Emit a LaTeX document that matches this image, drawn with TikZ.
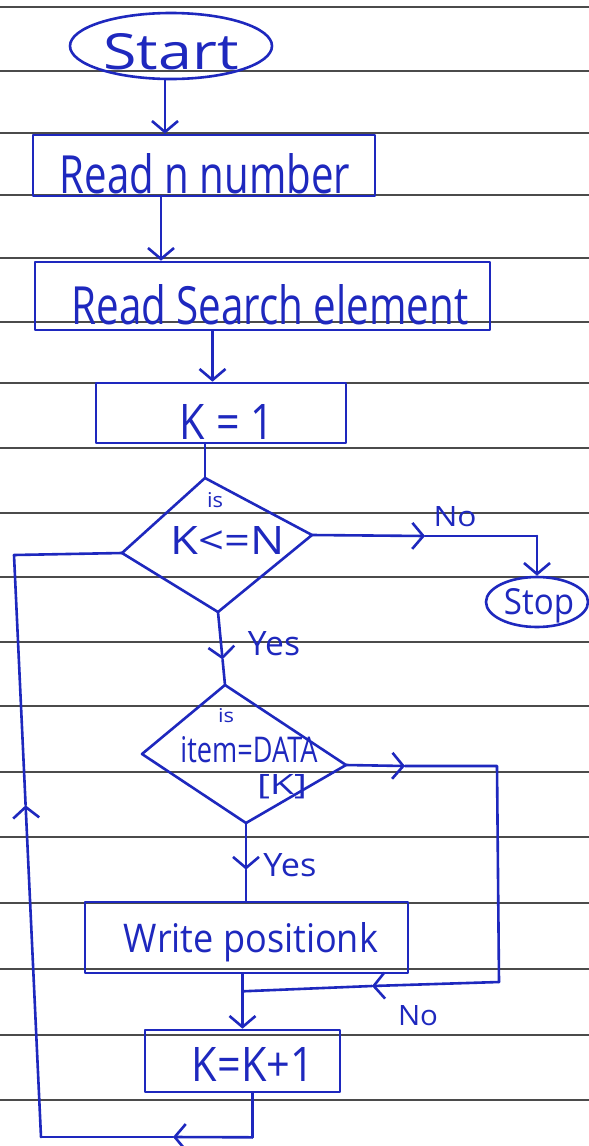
\documentclass[tikz,border=0pt]{standalone}
\usepackage{fontspec}
\setmainfont{Open Sans}
\usetikzlibrary{arrows.meta,calc,shapes.geometric}
\definecolor{pen}{RGB}{30,40,190}
\definecolor{ruling}{RGB}{75,75,75}
% handwriting-sized label: given width and letter height
\newcommand{\hw}[3]{\resizebox{#1}{#2}{#3}}

\begin{document}
\begin{tikzpicture}[x=1pt,y=-1pt,
  ink/.style={draw=pen, line width=2.6pt, line join=round, line cap=round},
  arr/.style={ink, -{Straight Barb[length=11pt,width=26pt]}},
  box/.style={ink, rectangle, inner sep=0pt},
  term/.style={ink, ellipse, inner sep=0pt},
  txt/.style={text=pen, inner sep=0pt},
  rule/.style={draw=ruling, line width=1.8pt}]

% page
\fill[white] (0,0) rectangle (589,1146);
\useasboundingbox (0,0) rectangle (589,1146);

% ruled notebook lines
\foreach \yy in {7,71,133,195,258,322,383,448,513,577,642,706,772,837,903,969,1035,1100}
  \draw[rule] (0,\yy) -- (589,\yy);

% terminals and process boxes
\node[term, minimum width=202pt, minimum height=66pt] (start) at (171,46) {};
\node[txt] (startt) at (171,52) {\hw{135pt}{36pt}{Start}};

\node[box, minimum width=342pt, minimum height=61pt] (read) at (204,165.5) {};
\node[txt] (readt) at (205,174) {\hw{290pt}{40pt}{Read n number}};

\node[box, minimum width=455pt, minimum height=68pt] (search) at (262.5,296) {};
\node[txt] (searcht) at (270,305) {\hw{397pt}{40pt}{Read Search element}};

\node[box, minimum width=250pt, minimum height=60pt] (k1) at (221,413) {};
\node[txt] (k1t) at (227,422) {\hw{94pt}{35pt}{K = 1}};

% first decision
\coordinate (d1t) at (205,478);
\coordinate (d1l) at (122,553);
\coordinate (d1r) at (312,535);
\coordinate (d1b) at (218,612);
\draw[ink] (d1t) -- (d1r) -- (d1b) -- (d1l) -- cycle;
\node[txt] (d1is) at (215,500) {\hw{16pt}{15pt}{is}};
\node[txt] (d1q) at (228,540) {\hw{114pt}{28pt}{K<=N}};

\node[term, minimum width=102pt, minimum height=50pt] (stop) at (537,602) {};
\node[txt] (stopt) at (539,606) {\hw{70pt}{26pt}{Stop}};

% second decision
\coordinate (d2t) at (225,685);
\coordinate (d2l) at (142,754);
\coordinate (d2r) at (346,765);
\coordinate (d2b) at (246,823);
\draw[ink] (d2t) -- (d2r) -- (d2b) -- (d2l) -- cycle;
\node[txt] (d2is) at (226,716) {\hw{16pt}{14pt}{is}};
\node[txt] (d2q) at (249,750) {\hw{137pt}{26pt}{item=DATA}};
\node[txt] (d2k) at (282,787) {\hw{50pt}{20pt}{[K]}};

\node[box, minimum width=323pt, minimum height=71pt] (write) at (246.5,937.5) {};
\node[txt] (writet) at (251,942) {\hw{254pt}{30pt}{Write positionk}};

\node[box, minimum width=195pt, minimum height=62pt] (kk) at (242.5,1061) {};
\node[txt] (kkt) at (253,1064) {\hw{122pt}{34pt}{K=K+1}};

% straight connectors
\draw[arr] (start.260) -- (start.260 |- read.north);
\coordinate (r2) at ($(read.south)+(-43,0)$);
\draw[arr] (r2) -- (r2 |- search.north);
\coordinate (s3) at ($(search.south)+(-50,0)$);
\draw[arr] (s3) -- (s3 |- k1.north);
\draw[ink] (k1.south -| d1t) -- (d1t);

% K<=N : yes
\coordinate (y1m) at ($(d1b)!0.65!(d2t)$);
\draw[arr] (d1b) -- (y1m);
\draw[ink] (y1m) -- (d2t);
\node[txt] (yes1) at (274,644) {\hw{52pt}{24pt}{Yes}};

% K<=N : no
\coordinate (n1a) at (425,536);
\coordinate (n1b) at (537,536);
\draw[arr] (d1r) -- (n1a);
\draw[ink] (n1a) -- (n1b);
\draw[arr] (n1b) -- (stop.north);
\node[txt] (no1) at (455,517) {\hw{43pt}{20pt}{No}};

% item=DATA[K] : yes
\coordinate (w0) at (d2b |- write.north);
\coordinate (y2m) at ($(d2b)!0.6!(w0)$);
\draw[arr] (d2b) -- (y2m);
\draw[ink] (y2m) -- (w0);
\node[txt] (yes2) at (290,865) {\hw{53pt}{23pt}{Yes}};

% write -> increment
\coordinate (w1) at ($(write.south)+(-4,0)$);
\draw[arr] (w1) -- (w1 |- kk.north);

% item=DATA[K] : no, joins before the increment
\coordinate (n2a) at (405,766);
\coordinate (n2b) at (497,766);
\coordinate (n2c) at (499,982);
\coordinate (n2d) at (372,986);
\coordinate (j2) at ($(w1)+(0,17)$);
\draw[arr] (d2r) -- (n2a);
\draw[ink] (n2a) -- (n2b) -- (n2c);
\draw[arr] (n2c) -- (n2d);
\draw[ink] (n2d) -- (j2);
\node[txt] (no2) at (418,1016) {\hw{40pt}{20pt}{No}};

% loop back to the first test
\coordinate (kb) at ($(kk.south)+(10,0)$);
\coordinate (lb1) at ($(kb)+(0,44)$);
\coordinate (lb2) at (41,1137);
\coordinate (lt) at (14,555);
\coordinate (lbm) at (173,1137);
\coordinate (lum) at ($(lb2)!0.57!(lt)$);
\draw[ink] (kb) -- (lb1);
\draw[arr] (lb1) -- (lbm);
\draw[ink] (lbm) -- (lb2);
\draw[arr] (lb2) -- (lum);
\draw[ink] (lum) -- (lt) -- (d1l);
\end{tikzpicture}
\end{document}
